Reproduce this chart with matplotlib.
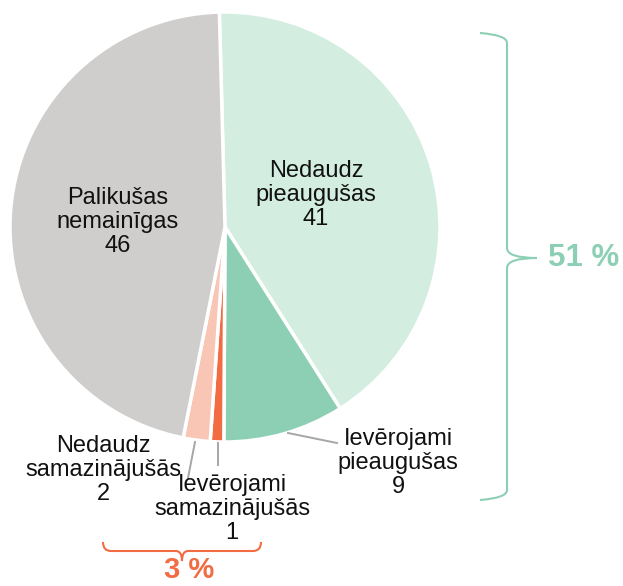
import matplotlib
matplotlib.use("Agg")
import matplotlib.pyplot as plt
from matplotlib.path import Path
from matplotlib.patches import PathPatch

labels = ["Nedaudz\npieaugušas", "Ievērojami\npieaugušas", "Ievērojami\nsamazinājušās",
          "Nedaudz\nsamazinājušās", "Palikušas\nnemainīgas"]
values = [41, 9, 1, 2, 46]
colors = ["#d3ede1", "#8dcfb4", "#f26c43", "#f9c5b4", "#d0cdcd"]
group_up = "51 %"
group_down = "3 %"

W, H = 623, 586
fig = plt.figure(figsize=(W / 100, H / 100), dpi=100)
ax = fig.add_axes([0, 0, 1, 1])
ax.set_aspect("equal")

plt.rcParams["font.family"] = ["Liberation Sans", "DejaVu Sans"]

def Y(y):
    return H - y

cx, cy, R = 225, 227, 215
ax.pie(values, colors=colors, startangle=91.5, counterclock=False,
       center=(cx, Y(cy)), radius=R, frame=True,
       wedgeprops=dict(edgecolor="white", linewidth=2.5))
ax.set_xlim(0, W)
ax.set_ylim(0, H)
ax.axis("off")

fs = 17
txt = dict(ha="center", va="center", fontsize=fs, color="#111111", linespacing=1.12)
# inside labels
ax.text(316, Y(195), f"{labels[0]}\n{values[0]}", **txt)
ax.text(118, Y(222), f"{labels[4]}\n{values[4]}", **txt)
# outside labels
ax.text(398, Y(463), f"{labels[1]}\n{values[1]}", **txt)
ax.text(103, Y(470), f"{labels[3]}\n{values[3]}", **txt)
ax.text(232, Y(509), f"{labels[2]}\n{values[2]}", **txt)

lc = "#a6a6a6"
ax.plot([288, 337], [Y(433), Y(443)], color=lc, lw=1.4)
ax.plot([195, 188], [Y(442), Y(478)], color=lc, lw=1.4)
ax.plot([218, 218], [Y(443), Y(465)], color=lc, lw=1.4)

# right brace
gc = "#8dcfb4"
x0, xv, xt = 480, 507, 537
yt, ym, yb = 33, 258, 500
verts = [(x0, Y(yt)), (xv, Y(yt + 2)), (xv, Y(yt + 10)),
         (xv, Y(ym - 10)), (xv, Y(ym)), (xt, Y(ym)),
         (xv, Y(ym)), (xv, Y(ym + 10)),
         (xv, Y(yb - 10)), (xv, Y(yb - 2)), (x0, Y(yb))]
codes = [Path.MOVETO, Path.CURVE3, Path.CURVE3,
         Path.LINETO, Path.CURVE3, Path.CURVE3,
         Path.CURVE3, Path.CURVE3,
         Path.LINETO, Path.CURVE3, Path.CURVE3]
ax.add_patch(PathPatch(Path(verts, codes), fill=False, edgecolor=gc, lw=1.5))
ax.text(584, Y(258), group_up, ha="center", va="center", fontsize=22.5,
        fontweight="bold", color=gc)

# bottom brace
oc = "#f26c43"
xl, xr, xm = 103, 261, 182
y0, yh, ytip = 542, 551, 561
verts = [(xl, Y(y0)), (xl, Y(yh)), (xl + 8, Y(yh)),
         (xm - 6, Y(yh)), (xm, Y(yh)), (xm, Y(ytip)),
         (xm, Y(yh)), (xm + 6, Y(yh)),
         (xr - 8, Y(yh)), (xr, Y(yh)), (xr, Y(y0))]
codes = [Path.MOVETO, Path.CURVE3, Path.CURVE3,
         Path.LINETO, Path.CURVE3, Path.CURVE3,
         Path.CURVE3, Path.CURVE3,
         Path.LINETO, Path.CURVE3, Path.CURVE3]
ax.add_patch(PathPatch(Path(verts, codes), fill=False, edgecolor=oc, lw=1.5))
ax.text(189, Y(570), group_down, ha="center", va="center", fontsize=21,
        fontweight="bold", color=oc)

fig.savefig("out.png", dpi=100)
